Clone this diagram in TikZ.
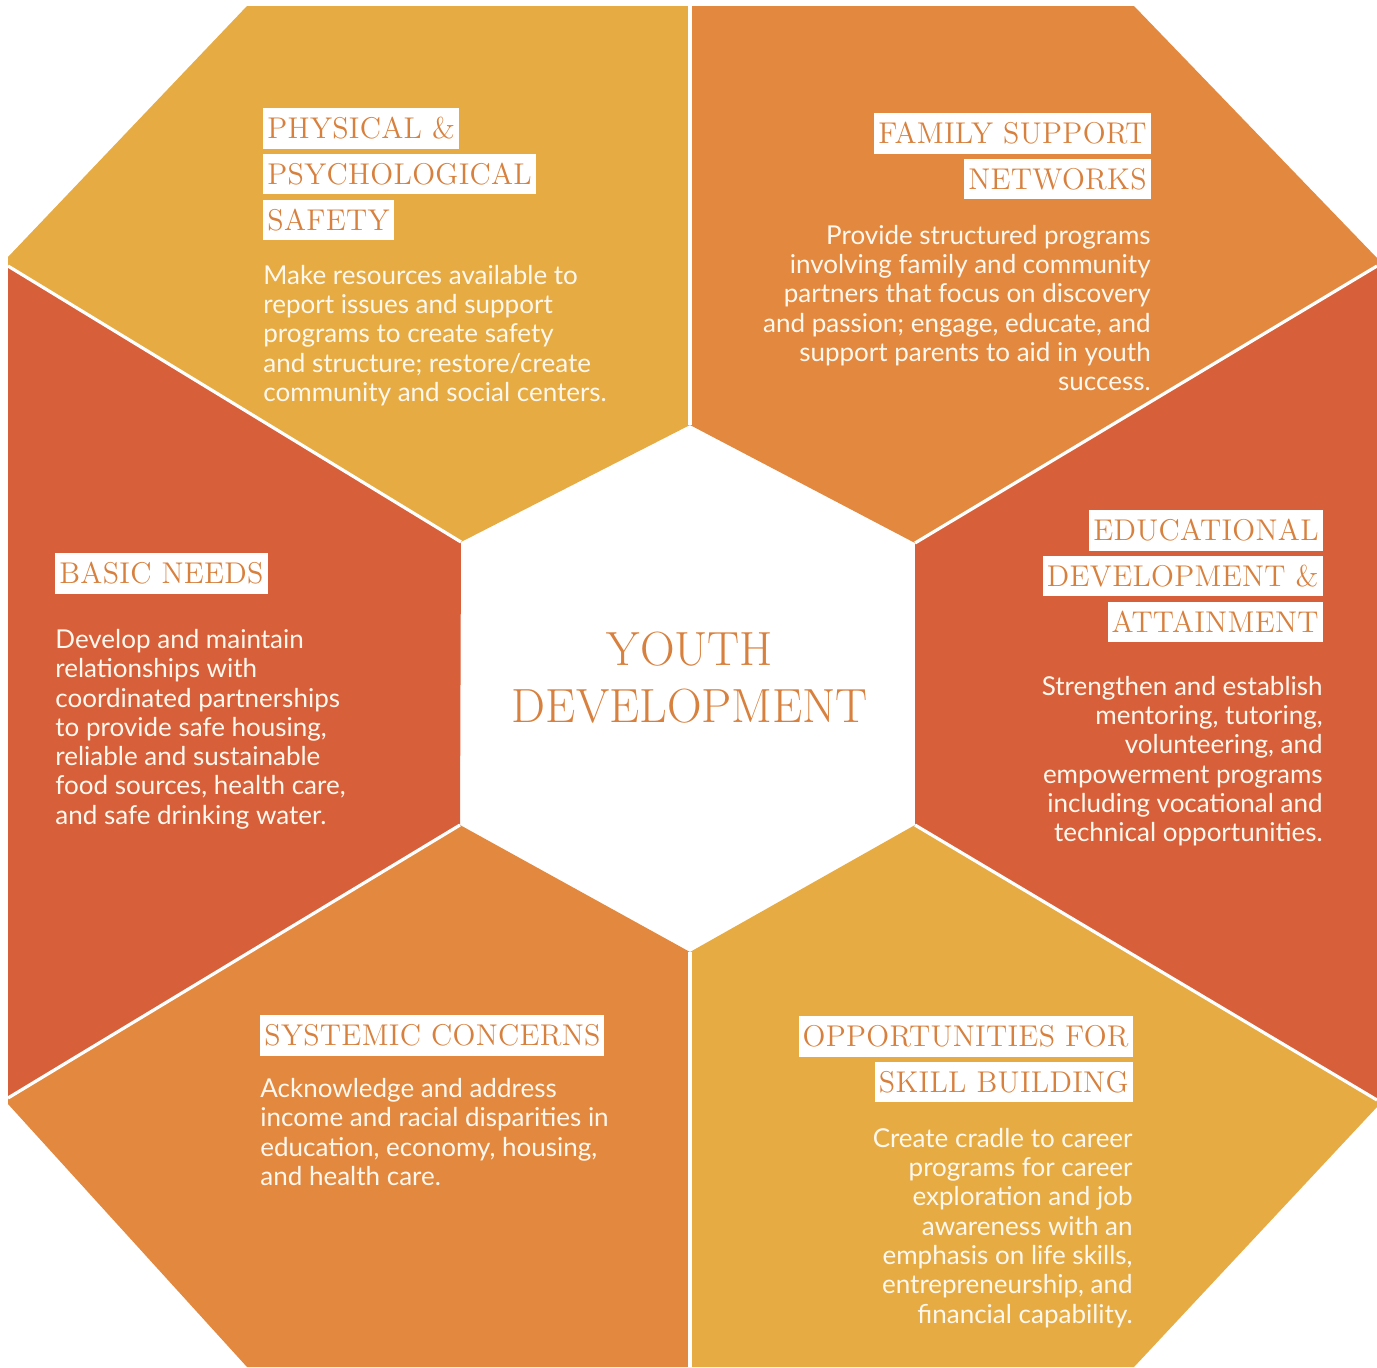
\documentclass[tikz,border=0pt]{standalone}
\usepackage{fontspec}
\newfontfamily\bodyfont{Lato}
\newfontfamily\headfont{lmroman12-regular}[Extension=.otf,LetterSpace=1]
\usetikzlibrary{positioning}
\definecolor{panelyellow}{HTML}{E6AB42}
\definecolor{panelorange}{HTML}{E3883F}
\definecolor{panelred}{HTML}{D75F39}
\definecolor{headtext}{HTML}{D8803D}
\definecolor{bodytext}{HTML}{FFF8EE}
\tikzset{
  divider/.style={white,line width=1.6pt},
  headbox/.style={fill=white,text=headtext,font=\headfont\fontsize{15}{17}\selectfont,inner xsep=2pt,inner ysep=4.9pt,text height=10.25pt,text depth=0pt},
  blurb/.style={text=bodytext,font=\bodyfont\fontsize{13}{14.65}\selectfont,inner sep=0pt},
}
\begin{document}
\begin{tikzpicture}[x=0.5pt,y=-0.5pt]
\useasboundingbox (0,0) rectangle (1377,1367);
% outer rim
\coordinate (o1) at (247,6);
\coordinate (o2) at (1134,6);
\coordinate (o3) at (1377,258);
\coordinate (o4) at (1377,1107);
\coordinate (o5) at (1134,1367);
\coordinate (o6) at (247,1367);
\coordinate (o7) at (8,1104);
\coordinate (o8) at (8,257);
% centre hexagon
\coordinate (h1) at (690,425);
\coordinate (h2) at (915,543);
\coordinate (h3) at (915,825);
\coordinate (h4) at (690,952);
\coordinate (h5) at (460,825);
\coordinate (h6) at (461,542);
% where the dividers meet the rim
\coordinate (d1) at (690,6);
\coordinate (d2) at (1377,266);
\coordinate (d3) at (1377,1100);
\coordinate (d4) at (690,1367);
\coordinate (d5) at (8,1098);
\coordinate (d6) at (8,266);
% panels
\fill[panelyellow] (h6)--(d6)--(o8)--(o1)--(d1)--(h1)--cycle;
\fill[panelorange] (h1)--(d1)--(o2)--(o3)--(d2)--(h2)--cycle;
\fill[panelred] (h2)--(d2)--(d3)--(h3)--cycle;
\fill[panelyellow] (h3)--(d3)--(o4)--(o5)--(d4)--(h4)--cycle;
\fill[panelorange] (h4)--(d4)--(o6)--(o7)--(d5)--(h5)--cycle;
\fill[panelred] (h5)--(d5)--(d6)--(h6)--cycle;
\foreach \i in {1,...,6} \draw[divider] (h\i)--(d\i);
% centre
\node[text=headtext,font=\fontsize{24}{28.5}\selectfont,align=center] (youth) at (690,678) {YOUTH\\DEVELOPMENT};
% physical & psychological safety
\node[headbox,anchor=north west] (safe1) at (263,108) {PHYSICAL \&};
\node[headbox,below=2.5pt of safe1.south west,anchor=north west] (safe2) {PSYCHOLOGICAL};
\node[headbox,below=2.5pt of safe2.south west,anchor=north west] (safe3) {SAFETY};
\node[blurb,align=left,below=12pt of safe3.south west,anchor=north west] (safetxt) {Make resources available to\\report issues and support\\programs to create safety\\and structure; restore/create\\community and social centers.};
% family support networks
\node[headbox,anchor=north east] (fam1) at (1151,113) {FAMILY SUPPORT};
\node[headbox,below=2.5pt of fam1.south east,anchor=north east] (fam2) {NETWORKS};
\node[blurb,align=right,below=12.5pt of fam2.south east,anchor=north east] (famtxt) {Provide structured programs\\involving family and community\\partners that focus on discovery\\and passion; engage, educate, and\\support parents to aid in youth\\success.};
% basic needs
\node[headbox,anchor=north west] (basic1) at (55,553) {BASIC NEEDS};
\node[blurb,align=left,below=17.5pt of basic1.south west,anchor=north west] (basictxt) {Develop and maintain\\relationships with\\coordinated partnerships\\to provide safe housing,\\reliable and sustainable\\food sources, health care,\\and safe drinking water.};
% educational development & attainment
\node[headbox,anchor=north east] (edu1) at (1323,510) {EDUCATIONAL};
\node[headbox,below=2.5pt of edu1.south east,anchor=north east] (edu2) {DEVELOPMENT \&};
\node[headbox,below=2.5pt of edu2.south east,anchor=north east] (edu3) {ATTAINMENT};
\node[blurb,align=right,below=16.5pt of edu3.south east,anchor=north east] (edutxt) {Strengthen and establish\\mentoring, tutoring,\\volunteering, and\\empowerment programs\\including vocational and\\technical opportunities.};
% systemic concerns
\node[headbox,anchor=north west] (sys1) at (260,1015) {SYSTEMIC CONCERNS};
\node[blurb,align=left,below=11pt of sys1.south west,anchor=north west] (systxt) {Acknowledge and address\\income and racial disparities in\\education, economy, housing,\\and health care.};
% opportunities for skill building
\node[headbox,anchor=north east] (skill1) at (1133,1016) {OPPORTUNITIES FOR};
\node[headbox,below=2.5pt of skill1.south east,anchor=north east] (skill2) {SKILL BUILDING};
\node[blurb,align=right,below=12.5pt of skill2.south east,anchor=north east] (skilltxt) {Create cradle to career\\programs for career\\exploration and job\\awareness with an\\emphasis on life skills,\\entrepreneurship, and\\financial capability.};
\end{tikzpicture}
\end{document}
